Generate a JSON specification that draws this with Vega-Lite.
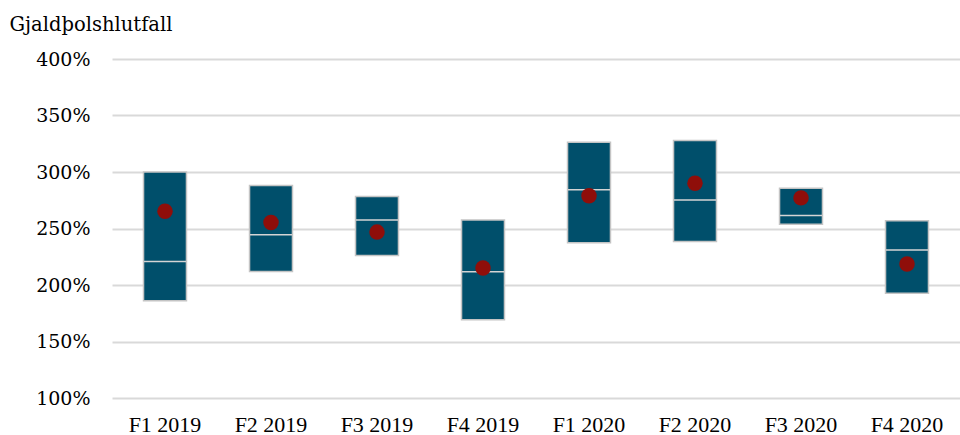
{
  "$schema": "https://vega.github.io/schema/vega-lite/v6.json",
  "width": 848,
  "height": 339,
  "autosize": {"type": "none"},
  "padding": {"left": 112, "top": 59, "right": 0, "bottom": 37},
  "background": "white",
  "config": {
    "view": {"stroke": null},
    "font": "Liberation Serif",
    "axis": {"labelFont": "Liberation Serif", "titleFont": "Liberation Serif", "labelColor": "#000000", "titleColor": "#000000", "labelFontSize": 22, "titleFontSize": 22, "titleFontWeight": "normal"}
  },
  "data": {
    "values": [
      {"q": "F1 2019", "low": 186, "high": 300, "median": 220.8, "mean": 265.3},
      {"q": "F2 2019", "low": 212, "high": 288, "median": 244.4, "mean": 255.3},
      {"q": "F3 2019", "low": 226, "high": 278.3, "median": 257.6, "mean": 246.8},
      {"q": "F4 2019", "low": 169.2, "high": 257.6, "median": 211.7, "mean": 215},
      {"q": "F1 2020", "low": 237.3, "high": 326.3, "median": 284.2, "mean": 278.9},
      {"q": "F2 2020", "low": 238.5, "high": 327.8, "median": 275.3, "mean": 290.1},
      {"q": "F3 2020", "low": 253.8, "high": 285.7, "median": 261.4, "mean": 277.1},
      {"q": "F4 2020", "low": 192.8, "high": 256.8, "median": 230.9, "mean": 218.5}
    ]
  },
  "encoding": {
    "x": {
      "field": "q", "type": "nominal", "sort": null,
      "scale": {"paddingInner": 0.595, "paddingOuter": 0.2975},
      "axis": {"title": null, "labelAngle": 0, "domain": false, "ticks": false, "labelPadding": 16}
    },
    "y": {
      "field": "low", "type": "quantitative",
      "scale": {"domain": [100, 400], "nice": false, "zero": false},
      "axis": {
        "values": [100, 150, 200, 250, 300, 350, 400],
        "labelExpr": "datum.value + '%'",
        "domain": false, "ticks": false,
        "grid": true, "gridColor": "#d9d9d9", "gridWidth": 2,
        "labelPadding": 22,
        "labelFont": "DejaVu Serif",
        "labelFontSize": 19,
        "titleFont": "DejaVu Serif",
        "titleFontSize": 19.5,
        "title": "Gjaldþolshlutfall", "titleAngle": 0, "titleAlign": "left", "titleBaseline": "alphabetic",
        "titleX": -103, "titleY": -29
      }
    }
  },
  "layer": [
    {
      "mark": {"type": "bar", "fill": "#004f6b", "stroke": "#c4c4c4", "strokeWidth": 1.5},
      "encoding": {"y2": {"field": "high"}}
    },
    {
      "mark": {"type": "tick", "color": "#d4d4d4", "thickness": 1.5, "size": 42, "opacity": 1},
      "encoding": {"y": {"field": "median", "type": "quantitative"}}
    },
    {
      "mark": {"type": "point", "shape": "circle", "filled": true, "color": "#8f0e0a", "size": 240, "opacity": 1},
      "encoding": {"y": {"field": "mean", "type": "quantitative"}}
    }
  ]
}
